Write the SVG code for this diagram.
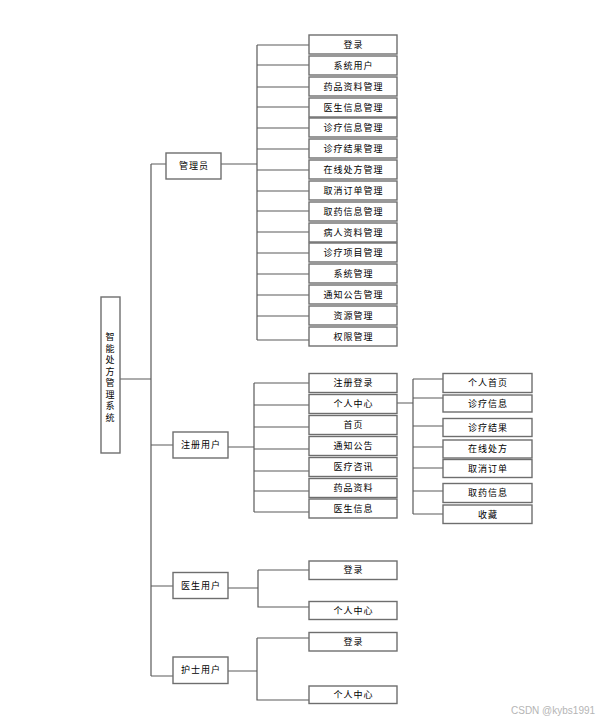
<svg xmlns="http://www.w3.org/2000/svg" width="610" height="721" viewBox="0 0 610 721">
<style>
.b{fill:#fff;stroke:#6e6e6e;stroke-width:1.4}
.t{font-family:"Noto Sans CJK SC","Liberation Sans",sans-serif;font-size:9px;fill:#000;text-anchor:middle;letter-spacing:1px}
.c{fill:none;stroke:#5a5a5a;stroke-width:1.2}
.w{font-family:"Liberation Sans","DejaVu Sans",sans-serif;font-size:10px;fill:#b5b5b5}
</style>
<rect width="610" height="721" fill="#fff"/>
<g id="connectors">
<path class="c" d="M120 379H151M151 164V676M151 164H166M151 445H173M151 586H173M151 676H173"/>
<path class="c" d="M221 164H257M257 45V340M257 45H309M257 65H309M257 87H309M257 107H309M257 128H309M257 149H309M257 170H309M257 191H309M257 211H309M257 232H309M257 253H309M257 274H309M257 295H309M257 316H309M257 340H309"/>
<path class="c" d="M228 447H254M254 383V512M254 383H309M254 405H309M254 427H309M254 449H309M254 471H309M254 491H309M254 512H309"/>
<path class="c" d="M397 403H413M413 379V514M413 379H443M413 398H443M413 426H443M413 447H443M413 468H443M413 491H443M413 514H443"/>
<path class="c" d="M227 588H258M258 570V607H309M258 570H309"/>
<path class="c" d="M227 671H257M257 638V700H309M257 638H309"/>
</g>
<g id="root"><rect class="b" x="101" y="297" width="19" height="156"/>
<text class="t" x="110.5"><tspan x="110.5" y="340">智</tspan><tspan x="110.5" y="351.5">能</tspan><tspan x="110.5" y="363">处</tspan><tspan x="110.5" y="374.5">方</tspan><tspan x="110.5" y="386">管</tspan><tspan x="110.5" y="397.5">理</tspan><tspan x="110.5" y="409">系</tspan><tspan x="110.5" y="420.5">统</tspan></text></g>
<g id="admin"><rect class="b" x="166" y="153" width="55" height="26"/><text class="t" x="194" y="169">管理员</text></g>
<g id="a1"><rect class="b" x="309" y="35" width="88" height="19"/><text class="t" x="353.5" y="47.5">登录</text></g>
<g id="a2"><rect class="b" x="309" y="56" width="88" height="19"/><text class="t" x="353.5" y="68.5">系统用户</text></g>
<g id="a3"><rect class="b" x="309" y="77" width="88" height="19"/><text class="t" x="353.5" y="89.5">药品资料管理</text></g>
<g id="a4"><rect class="b" x="309" y="98" width="88" height="19"/><text class="t" x="353.5" y="110.5">医生信息管理</text></g>
<g id="a5"><rect class="b" x="309" y="118" width="88" height="19"/><text class="t" x="353.5" y="130.5">诊疗信息管理</text></g>
<g id="a6"><rect class="b" x="309" y="139" width="88" height="19"/><text class="t" x="353.5" y="151.5">诊疗结果管理</text></g>
<g id="a7"><rect class="b" x="309" y="160" width="88" height="19"/><text class="t" x="353.5" y="172.5">在线处方管理</text></g>
<g id="a8"><rect class="b" x="309" y="181" width="88" height="19"/><text class="t" x="353.5" y="193.5">取消订单管理</text></g>
<g id="a9"><rect class="b" x="309" y="202" width="88" height="19"/><text class="t" x="353.5" y="214.5">取药信息管理</text></g>
<g id="a10"><rect class="b" x="309" y="223" width="88" height="19"/><text class="t" x="353.5" y="235.5">病人资料管理</text></g>
<g id="a11"><rect class="b" x="309" y="243" width="88" height="19"/><text class="t" x="353.5" y="255.5">诊疗项目管理</text></g>
<g id="a12"><rect class="b" x="309" y="264" width="88" height="19"/><text class="t" x="353.5" y="276.5">系统管理</text></g>
<g id="a13"><rect class="b" x="309" y="285" width="88" height="19"/><text class="t" x="353.5" y="297.5">通知公告管理</text></g>
<g id="a14"><rect class="b" x="309" y="306" width="88" height="19"/><text class="t" x="353.5" y="318.5">资源管理</text></g>
<g id="a15"><rect class="b" x="309" y="327" width="88" height="19"/><text class="t" x="353.5" y="339.5">权限管理</text></g>
<g id="reg"><rect class="b" x="173" y="432" width="55" height="26"/><text class="t" x="201" y="448">注册用户</text></g>
<g id="r1"><rect class="b" x="309" y="373.5" width="88" height="19"/><text class="t" x="353.5" y="386">注册登录</text></g>
<g id="r2"><rect class="b" x="309" y="394.5" width="88" height="19"/><text class="t" x="353.5" y="407">个人中心</text></g>
<g id="r3"><rect class="b" x="309" y="415.5" width="88" height="19"/><text class="t" x="353.5" y="428">首页</text></g>
<g id="r4"><rect class="b" x="309" y="436.5" width="88" height="19"/><text class="t" x="353.5" y="449">通知公告</text></g>
<g id="r5"><rect class="b" x="309" y="457.5" width="88" height="19"/><text class="t" x="353.5" y="470">医疗咨讯</text></g>
<g id="r6"><rect class="b" x="309" y="478.5" width="88" height="19"/><text class="t" x="353.5" y="491">药品资料</text></g>
<g id="r7"><rect class="b" x="309" y="499" width="88" height="19"/><text class="t" x="353.5" y="511.5">医生信息</text></g>
<g id="p1"><rect class="b" x="443" y="373.5" width="89" height="19"/><text class="t" x="488" y="386">个人首页</text></g>
<g id="p2"><rect class="b" x="443" y="395" width="89" height="17"/><text class="t" x="488" y="406.5">诊疗信息</text></g>
<g id="p3"><rect class="b" x="443" y="418.5" width="89" height="18"/><text class="t" x="488" y="430.5">诊疗结果</text></g>
<g id="p4"><rect class="b" x="443" y="440" width="89" height="18"/><text class="t" x="488" y="452">在线处方</text></g>
<g id="p5"><rect class="b" x="443" y="459.5" width="89" height="18"/><text class="t" x="488" y="471.5">取消订单</text></g>
<g id="p6"><rect class="b" x="443" y="483.5" width="89" height="19"/><text class="t" x="488" y="496">取药信息</text></g>
<g id="p7"><rect class="b" x="443" y="505" width="89" height="18.5"/><text class="t" x="488" y="517.5">收藏</text></g>
<g id="doc"><rect class="b" x="173" y="572.5" width="55" height="26"/><text class="t" x="201" y="588.5">医生用户</text></g>
<g id="d1"><rect class="b" x="309" y="561" width="88" height="18.5"/><text class="t" x="353.5" y="573">登录</text></g>
<g id="d2"><rect class="b" x="309" y="601.5" width="88" height="18"/><text class="t" x="353.5" y="613.5">个人中心</text></g>
<g id="nurse"><rect class="b" x="173" y="657" width="55" height="26.5"/><text class="t" x="201" y="673">护士用户</text></g>
<g id="n1"><rect class="b" x="309" y="632.5" width="88" height="18.5"/><text class="t" x="353.5" y="644.5">登录</text></g>
<g id="n2"><rect class="b" x="309" y="686" width="88" height="17.5"/><text class="t" x="353.5" y="698">个人中心</text></g>
<text class="w" x="511" y="714">CSDN @kybs1991</text>
</svg>
